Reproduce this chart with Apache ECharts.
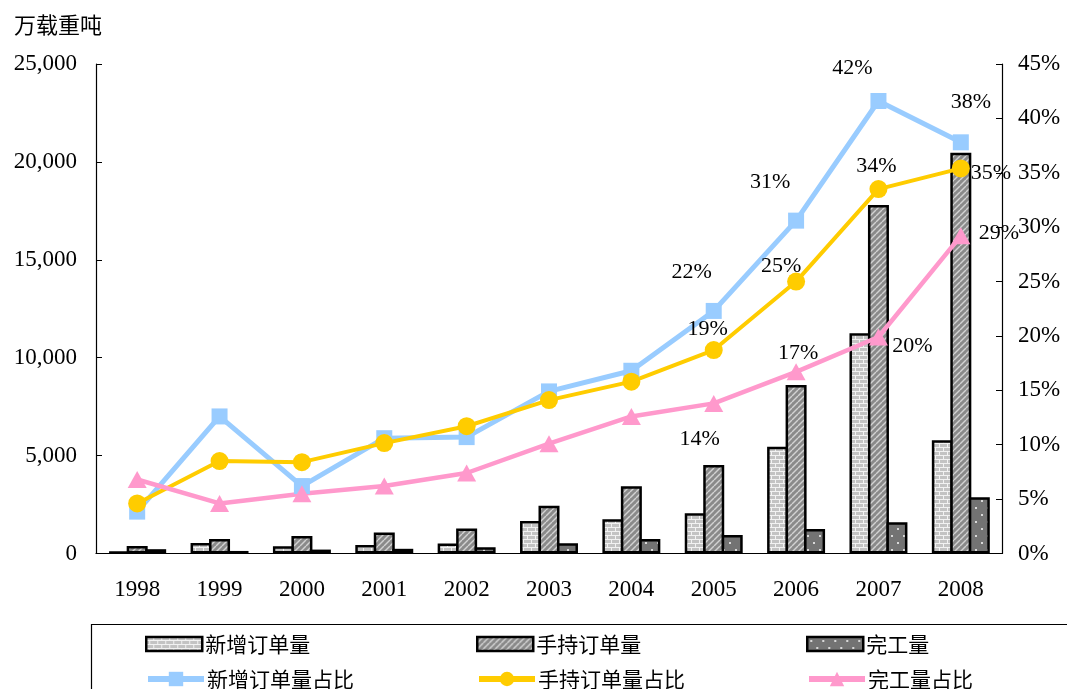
<!DOCTYPE html>
<html><head><meta charset="utf-8">
<script src="https://cdn.jsdelivr.net/npm/echarts@6/dist/echarts.min.js"></script>
<style>html,body{margin:0;padding:0;background:#fff}#c{width:1067px;height:689px}</style>
</head><body><div id="c"></div>
<script>
const years = ['1998','1999','2000','2001','2002','2003','2004','2005','2006','2007','2008'];
const newOrders = [90, 530, 370, 440, 510, 1660, 1746, 2053, 5454, 11246, 5790];
const holdOrders = [380, 740, 900, 1075, 1280, 2441, 3432, 4520, 8605, 17800, 20470];
const completed = [220, 130, 200, 240, 320, 520, 740, 945, 1251, 1590, 2870];
const newShare = [3.85, 12.6, 6.2, 10.6, 10.7, 14.9, 16.8, 22.3, 30.6, 41.6, 37.8];
const holdShare = [4.6, 8.5, 8.4, 10.15, 11.7, 14.1, 15.8, 18.7, 25.0, 33.5, 35.4];
const doneShare = [6.8, 4.6, 5.5, 6.2, 7.4, 10.1, 12.6, 13.8, 16.7, 19.9, 29.2];
const leftTicks = {min: 0, max: 25000, interval: 5000};
const rightTicks = {min: 0, max: 45, interval: 5};

// label offsets (styles, kept separate from data)
const firstLabelIdx = 7;
const newLblOff = [[-22,-39],[-26,-38],[-26,-33],[10,-40]];
const holdLblOff = [[-6,-21],[-15,-15],[-2,-23],[30,5]];
const doneLblOff = [[-14,36],[2,-19],[34,9],[38,-3]];

function makeCanvas(w,h,draw){const c=document.createElement('canvas');c.width=w;c.height=h;draw(c.getContext('2d'));return c;}
const brick = makeCanvas(8,8,ctx=>{
  ctx.fillStyle='#f2f2f2';ctx.fillRect(0,0,8,8);
  ctx.fillStyle='#c3c3c3';
  ctx.fillRect(0,0,7,3);
  ctx.fillRect(4,4,4,3);ctx.fillRect(0,4,3,3);
});
const hatch = makeCanvas(6,6,ctx=>{
  ctx.fillStyle='#8a8a8a';ctx.fillRect(0,0,6,6);
  ctx.strokeStyle='#d2d2d2';ctx.lineWidth=1.4;
  for(let k=-6;k<=12;k+=6){ctx.beginPath();ctx.moveTo(k,6);ctx.lineTo(k+6,0);ctx.stroke();}
});
const dots = makeCanvas(12,14,ctx=>{
  ctx.fillStyle='#737373';ctx.fillRect(0,0,12,14);
  ctx.fillStyle='#d8d8d8';
  ctx.fillRect(3,3,2,2);ctx.fillRect(9,10,2,2);
});
const brickFill={image:brick,repeat:'repeat'};
const hatchFill={image:hatch,repeat:'repeat'};
const dotFill={image:dots,repeat:'repeat'};

const serif='"Liberation Serif","Times New Roman",serif';
const cjk='"Noto Sans CJK SC","Noto Sans",sans-serif';

function lineData(vals, offs){
  return vals.map((v,i)=> i>=firstLabelIdx ? {value:v,label:{show:true,offset:offs[i-firstLabelIdx]}} : v);
}
function barSeries(name, data, fill){
  return {name, type:'bar', data, barWidth:21, barGap:'-12%', z:2,
    itemStyle:{color:fill, borderColor:'#000', borderWidth:2.5}};
}
function lineSeries(name, data, color, symbol, size, width){
  return {name, type:'line', yAxisIndex:1, data, symbol, symbolSize:size, z:5,
    lineStyle:{color, width}, itemStyle:{color},
    label:{show:false, position:'inside', formatter:p=>Math.round(p.value)+'%',
      fontFamily:serif, fontSize:22, color:'#000', align:'center', verticalAlign:'middle'}};
}

const barLegend=(name,left,top)=>({data:[name],left,top,itemWidth:56,itemHeight:14,itemGap:0,icon:'rect',
  itemStyle:{borderColor:'#000',borderWidth:2.5},
  textStyle:{fontFamily:cjk,fontSize:21,color:'#000',lineHeight:22,padding:[0,0,0,-2]},padding:0,selectedMode:false});
const lineLegend=(name,left,top)=>({data:[name],left,top,itemWidth:56,itemHeight:18,itemGap:0,
  lineStyle:{width:6},
  textStyle:{fontFamily:cjk,fontSize:21,color:'#000',lineHeight:22,padding:[0,0,0,-2]},padding:0,selectedMode:false});

const chart=echarts.init(document.getElementById('c'),null,{renderer:'canvas'});
chart.setOption({
  animation:false,
  backgroundColor:'#fff',
  title:{text:'万载重吨',left:9,top:9,textStyle:{fontFamily:cjk,fontSize:22,fontWeight:'normal',color:'#000'}},
  grid:{left:96,right:65,top:64,bottom:135.5},
  legend:[
    barLegend('新增订单量',145,633),
    barLegend('手持订单量',476,633),
    barLegend('完工量',806,633),
    lineLegend('新增订单量占比',145,668),
    lineLegend('手持订单量占比',476,668),
    lineLegend('完工量占比',806,668)
  ],
  xAxis:{type:'category',data:years,
    axisLine:{lineStyle:{color:'#000',width:1.2}},
    axisTick:{inside:true,length:7,lineStyle:{color:'#000'}},
    axisLabel:{fontFamily:serif,fontSize:23,color:'#000',margin:25}},
  yAxis:[
    {type:'value',min:leftTicks.min,max:leftTicks.max,interval:leftTicks.interval,
      axisLine:{show:true,lineStyle:{color:'#000',width:1.2}},
      axisTick:{show:true,inside:true,length:6,lineStyle:{color:'#000'}},
      splitLine:{show:false},
      axisLabel:{fontFamily:serif,fontSize:23,color:'#000',margin:19,
        formatter:v=>v.toLocaleString('en-US')}},
    {type:'value',min:rightTicks.min,max:rightTicks.max,interval:rightTicks.interval,position:'right',
      axisLine:{show:true,lineStyle:{color:'#000',width:1.2}},
      axisTick:{show:true,inside:true,length:6,lineStyle:{color:'#000'}},
      splitLine:{show:false},
      axisLabel:{fontFamily:serif,fontSize:23,color:'#000',margin:16,formatter:'{value}%'}}
  ],
  series:[
    barSeries('新增订单量',newOrders,brickFill),
    barSeries('手持订单量',holdOrders,hatchFill),
    barSeries('完工量',completed,dotFill),
    lineSeries('新增订单量占比',lineData(newShare,newLblOff),'#99CCFF','rect',16,5),
    lineSeries('手持订单量占比',lineData(holdShare,holdLblOff),'#FFCC00','circle',18,4),
    lineSeries('完工量占比',lineData(doneShare,doneLblOff),'#FF99CC','triangle',[19,17],4.5)
  ],
  graphic:[{type:'rect',shape:{x:91.5,y:624.5,width:1100,height:100},
    style:{fill:null,stroke:'#000',lineWidth:1.2},silent:true,z:-1}]
});
</script></body></html>
